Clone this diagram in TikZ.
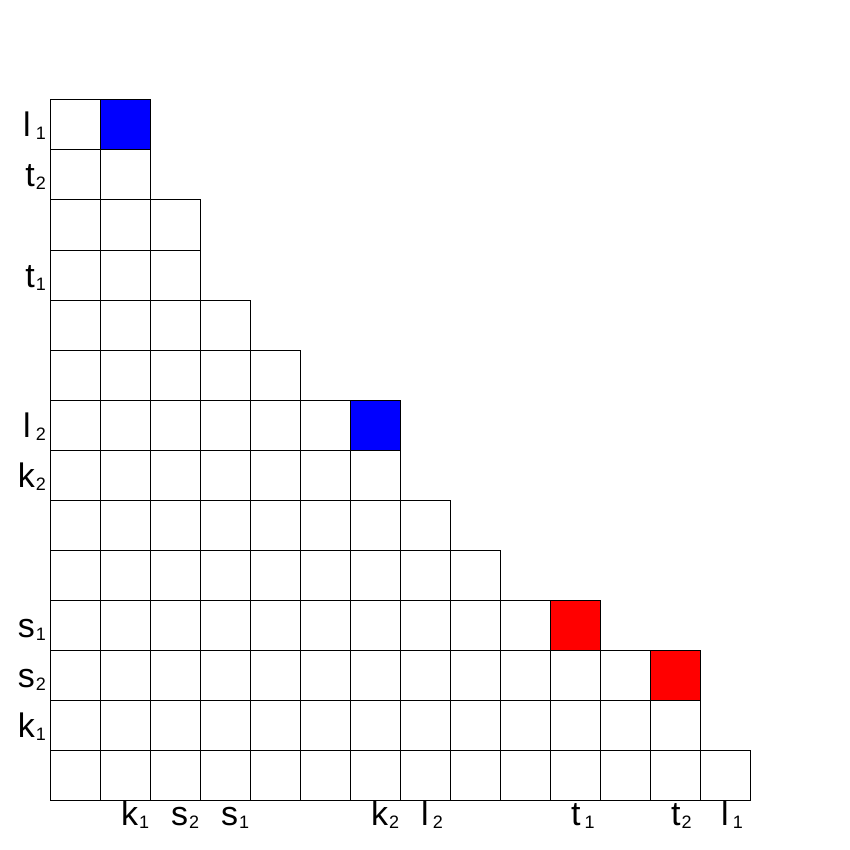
\documentclass[tikz,border=0pt]{standalone}
\usepackage{fontspec}
\setmainfont{Liberation Sans}
\newcommand\mysub[1]{\kern1pt\raisebox{-3pt}{\fontsize{18}{18}\selectfont #1}}
\begin{document}
\begin{tikzpicture}[x=1pt,y=-1pt,
  cell/.style={draw=black,line width=1pt,minimum size=50pt,inner sep=0pt,anchor=center,fill=white},
  lab/.style={inner sep=0pt,font=\fontsize{34}{34}\selectfont}]
\useasboundingbox (0,0) rectangle (850,850);
\foreach \n [count=\r from 0] in {2,2,3,3,4,5,7,7,8,9,11,13,13,14} {
  \foreach \c in {1,...,\n} {
    \node[cell] (c-\r-\c) at ({25+50*\c},{125+50*\r}) {};
  }
}
\node[cell,fill=blue] (b1) at (c-0-2.center) {};
\node[cell,fill=blue] (b2) at (c-6-7.center) {};
\node[cell,fill=red] (r1) at (c-10-11.center) {};
\node[cell,fill=red] (r2) at (c-11-13.center) {};
% left labels
\node[lab,anchor=base east] (yl1) at (46,137) {l\kern4pt\mysub{1}};
\node[lab,anchor=base east] (yt2) at (46,187) {t\mysub{2}};
\node[lab,anchor=base east] (yt1) at (46,287) {t\mysub{1}};
\node[lab,anchor=base east] (yl2) at (46,437) {l\kern4pt\mysub{2}};
\node[lab,anchor=base east] (yk2) at (46,487) {k\mysub{2}};
\node[lab,anchor=base east] (ys1) at (46,637) {s\mysub{1}};
\node[lab,anchor=base east] (ys2) at (46,687) {s\mysub{2}};
\node[lab,anchor=base east] (yk1) at (46,737) {k\mysub{1}};
% bottom labels
\node[lab,anchor=base west] (xk1) at (121,825) {k\mysub{1}};
\node[lab,anchor=base west] (xs2) at (171,825) {s\mysub{2}};
\node[lab,anchor=base west] (xs1) at (221,825) {s\mysub{1}};
\node[lab,anchor=base west] (xk2) at (371,825) {k\mysub{2}};
\node[lab,anchor=base west] (xl2) at (421,825) {l\kern3pt\mysub{2}};
\node[lab,anchor=base west] (xt1) at (571,825) {t\kern3pt\mysub{1}};
\node[lab,anchor=base west] (xt2) at (671,825) {t\mysub{2}};
\node[lab,anchor=base west] (xl1) at (721,825) {l\kern3pt\mysub{1}};
\end{tikzpicture}
\end{document}
